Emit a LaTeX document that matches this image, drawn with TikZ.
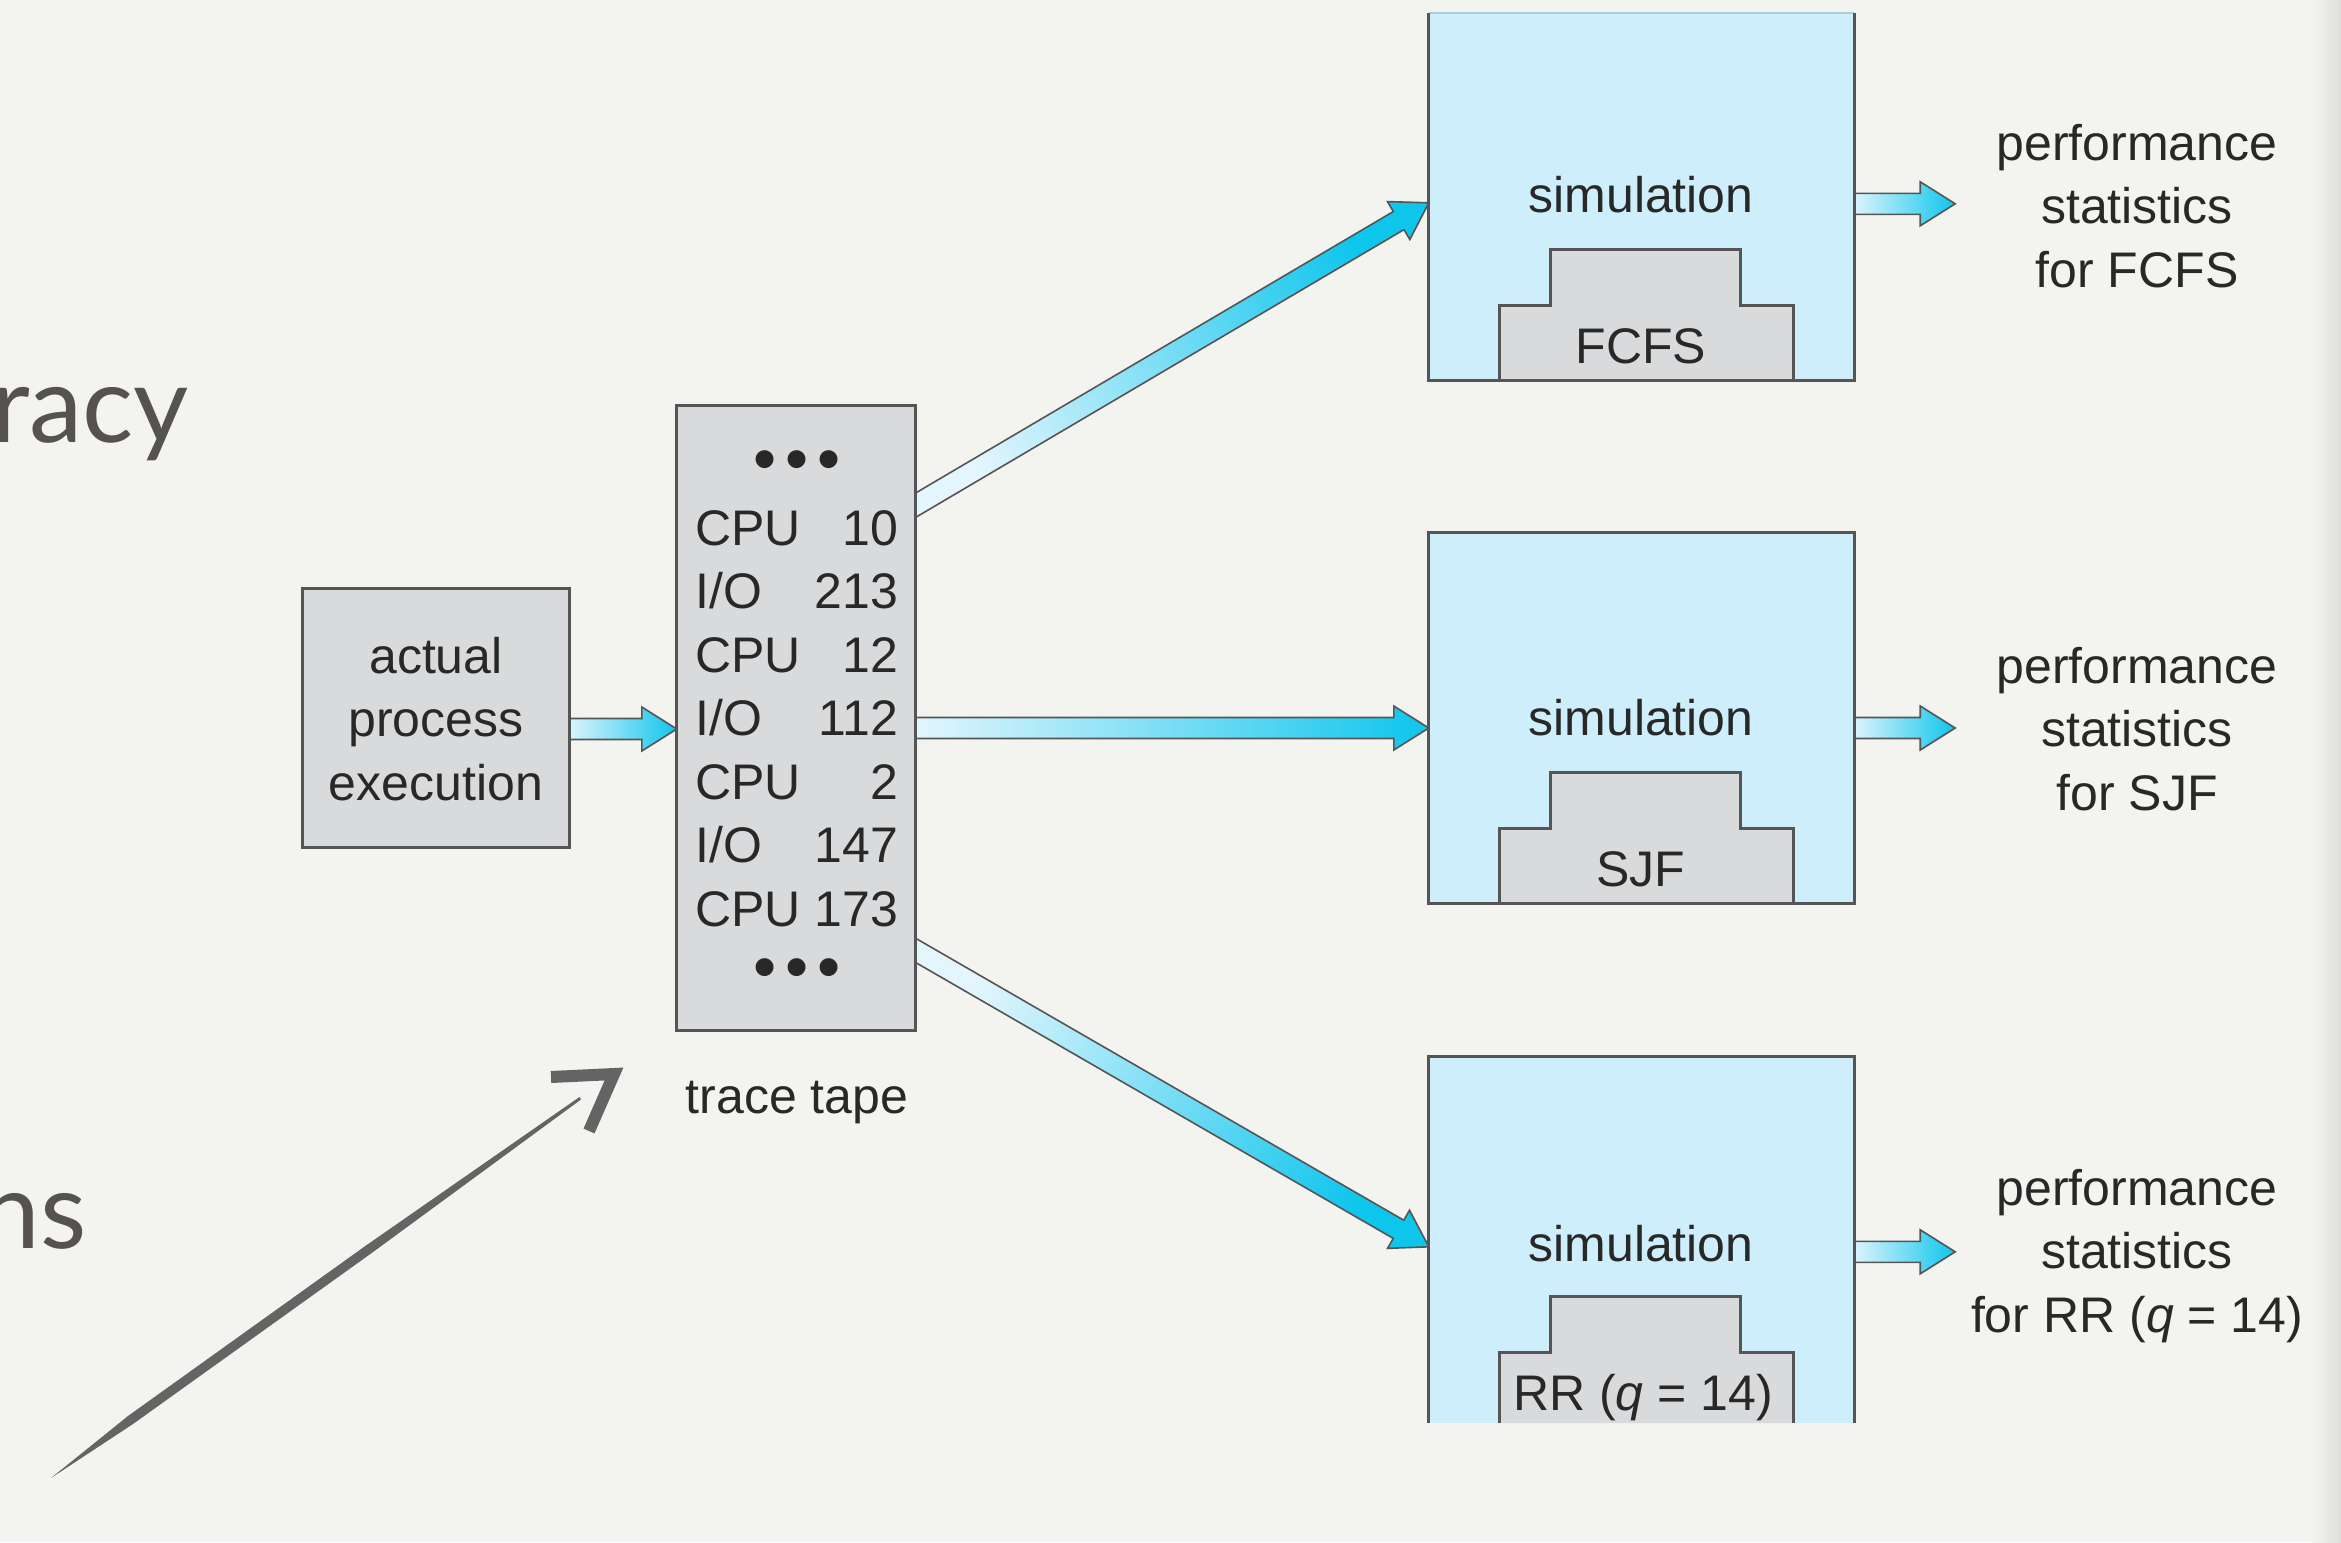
\documentclass[tikz,border=0pt]{standalone}
\usepackage{fontspec}
\setmainfont{Liberation Sans}
\newfontfamily\slidefont{Lato}
\usetikzlibrary{calc}

\definecolor{pagebg}{RGB}{243,243,240}
\definecolor{pageedge}{RGB}{222,222,219}
\definecolor{boxgray}{RGB}{217,218,220}
\definecolor{edgegray}{RGB}{85,85,85}
\definecolor{simblue}{RGB}{206,238,252}
\definecolor{simtop}{RGB}{172,205,220}
\definecolor{flowlight}{RGB}{228,246,253}
\definecolor{flowcyan}{RGB}{14,197,236}
\definecolor{inkgray}{RGB}{40,40,40}
\definecolor{slidegray}{RGB}{86,82,80}
\definecolor{handink}{RGB}{100,100,100}

% three bullets used above and below the trace listing
\newcommand\tracedots{{\fontsize{66}{63.5}\selectfont\textbullet\hspace{9pt}\textbullet\hspace{9pt}\textbullet}}

% block arrow with a light-to-cyan gradient: #1 start, #2 tip, #3 shading angle
\newcommand\flowarrow[3]{%
  \coordinate (fa-b) at ($(#2)!35pt!(#1)$);
  \shade[flowstyle, shading angle=#3]
    ($(#1)!10.5pt!90:(#2)$) -- ($(fa-b)!10.5pt!90:(#2)$) -- ($(fa-b)!22pt!90:(#2)$) -- (#2)
    -- ($(fa-b)!22pt!-90:(#2)$) -- ($(fa-b)!10.5pt!-90:(#2)$) -- ($(#1)!10.5pt!-90:(#2)$) -- cycle;
}

% stepped scheduler block inside a simulation box: #1 box top, #2 bottom
\newcommand\stepblock[2]{%
  \filldraw[stepstyle] (1499,#2) -- (1499,#1+295) -- (1550,#1+295) -- (1550,#1+239)
    -- (1740,#1+239) -- (1740,#1+295) -- (1793,#1+295) -- (1793,#2);
}

\begin{document}
\begin{tikzpicture}[x=1pt,y=-1pt,
  figtext/.style={font=\fontsize{50}{63.5}\selectfont, text=inkgray, inner sep=0pt},
  slidetext/.style={font=\slidefont\fontsize{107}{128}\selectfont, text=slidegray, inner sep=0pt},
  graybox/.style={draw=edgegray, line width=3pt, fill=boxgray},
  simfill/.style={fill=simblue, draw=none, minimum width=425pt, inner sep=0pt},
  edgeline/.style={draw=edgegray, line width=3pt},
  stepstyle/.style={fill=boxgray, draw=edgegray, line width=3pt, line join=miter},
  flowstyle/.style={draw=edgegray, line width=1.6pt, line join=miter,
                    left color=flowlight, right color=flowcyan}]

% page
\fill[pagebg] (0,0) rectangle (2341,1542);
\shade[left color=pagebg, right color=pageedge, draw=none] (2312,0) rectangle (2341,1542);
\useasboundingbox (0,0) rectangle (2341,1542);

% words of the slide text behind the figure
\node[slidetext, anchor=base east] (word1) at (189,442) {racy};
\node[slidetext, anchor=base east] (word2) at (87,1248) {ns};

% hand-drawn pointer
\fill[handink] (51,1478) -- (128,1416) -- (366,1245.5) -- (579.5,1097) -- (581,1099.5)
  -- (371,1253.5) -- (133,1424) -- cycle;
\draw[handink, line width=12pt, line join=miter, line cap=butt]
  (551,1077) -- (614,1074) -- (589,1131);

% node geometry (boxes are outlined after the arrows are drawn)
\path (436,718) node[minimum width=266pt, minimum height=258pt, inner sep=0pt] (actual) {};
\path (796,718) node[minimum width=238pt, minimum height=624pt, inner sep=0pt] (trace) {};
\path (1641.5,196.5) node[simfill, minimum height=367pt] (fcfs) {};
\path (1641.5,718) node[simfill, minimum height=370pt] (sjf) {};
\path (1641.5,1240) node[simfill, minimum height=366pt] (rr) {};

% arrow end points
\coordinate (a-out) at ($(actual.east)+(-4,11)$);
\coordinate (t-in) at ($(trace.west)+(0,11)$);
\coordinate (t-top) at ($(trace.north east)+(-4,102)$);
\coordinate (t-mid) at ($(trace.east)+(-4,10)$);
\coordinate (t-bot) at ($(trace.north east)+(-4,542)$);
\coordinate (fcfs-in) at ($(fcfs.north west)+(0,190)$);
\coordinate (sjf-in) at ($(sjf.west)+(0,10)$);
\coordinate (rr-in) at ($(rr.north west)+(0,190)$);
\coordinate (fcfs-from) at ($(fcfs.north east)+(-4,191)$);
\coordinate (sjf-from) at ($(sjf.east)+(-4,10)$);
\coordinate (rr-from) at ($(rr.north east)+(-4,195)$);
\coordinate (fcfs-res) at ($(fcfs.north east)+(101,191)$);
\coordinate (sjf-res) at ($(sjf.east)+(101,10)$);
\coordinate (rr-res) at ($(rr.north east)+(101,195)$);

% arrows
\flowarrow{a-out}{t-in}{90}
\flowarrow{t-top}{fcfs-in}{120.5}
\flowarrow{t-mid}{sjf-in}{90}
\flowarrow{t-bot}{rr-in}{59.8}
\flowarrow{fcfs-from}{fcfs-res}{90}
\flowarrow{sjf-from}{sjf-res}{90}
\flowarrow{rr-from}{rr-res}{90}

% gray boxes
\draw[graybox] (actual.north west) rectangle (actual.south east);
\draw[graybox] (trace.north west) rectangle (trace.south east);

% simulation boxes
\fill[simblue] (fcfs.north west) rectangle (fcfs.south east);
\fill[simblue] (sjf.north west) rectangle (sjf.south east);
\fill[simblue] (rr.north west) rectangle (rr.south east);
\draw[simtop, line width=1.5pt] (fcfs.north west) -- (fcfs.north east);
\stepblock{10}{380}
\stepblock{533}{903}
\stepblock{1057}{1423}
\draw[edgeline] (fcfs.north west) -- (fcfs.south west) -- (fcfs.south east) -- (fcfs.north east);
\draw[edgeline] (sjf.north west) rectangle (sjf.south east);
\draw[edgeline] (rr.south west) -- (rr.north west) -- (rr.north east) -- (rr.south east);

% texts
\node[figtext, anchor=base] (actual-text) at (436,673)
  {\begin{tabular}[t]{@{}c@{}}actual\\process\\execution\end{tabular}};
\node[figtext, anchor=base west] (trace-list) at (695,481.5) {%
  \begin{tabular*}{203pt}[t]{@{}l@{\extracolsep{\fill}}r@{}}
  \multicolumn{2}{c}{\tracedots}\\
  CPU & 10\\ I/O & 213\\ CPU & 12\\ I/O & 112\\ CPU & 2\\ I/O & 147\\ CPU & 173\\
  \multicolumn{2}{c}{\tracedots}
  \end{tabular*}};
\node[figtext, anchor=base] (trace-text) at (797,1113) {trace tape};

\node[figtext, anchor=base] (fcfs-sim) at (1641,212) {simulation};
\node[figtext, anchor=base] (sjf-sim) at (1641,735) {simulation};
\node[figtext, anchor=base] (rr-sim) at (1641,1261) {simulation};
\node[figtext, anchor=base] (fcfs-alg) at (1641,363) {FCFS};
\node[figtext, anchor=base] (sjf-alg) at (1641,886) {SJF};
\node[figtext, anchor=base] (rr-alg) at (1643,1410) {RR (\textit{q} = 14)};

\node[figtext, anchor=base] (fcfs-stats) at (2137,160)
  {\begin{tabular}[t]{@{}c@{}}performance\\statistics\\for FCFS\end{tabular}};
\node[figtext, anchor=base] (sjf-stats) at (2137,683)
  {\begin{tabular}[t]{@{}c@{}}performance\\statistics\\for SJF\end{tabular}};
\node[figtext, anchor=base] (rr-stats) at (2137,1205)
  {\begin{tabular}[t]{@{}c@{}}performance\\statistics\\for RR (\textit{q} = 14)\end{tabular}};
\end{tikzpicture}
\end{document}
